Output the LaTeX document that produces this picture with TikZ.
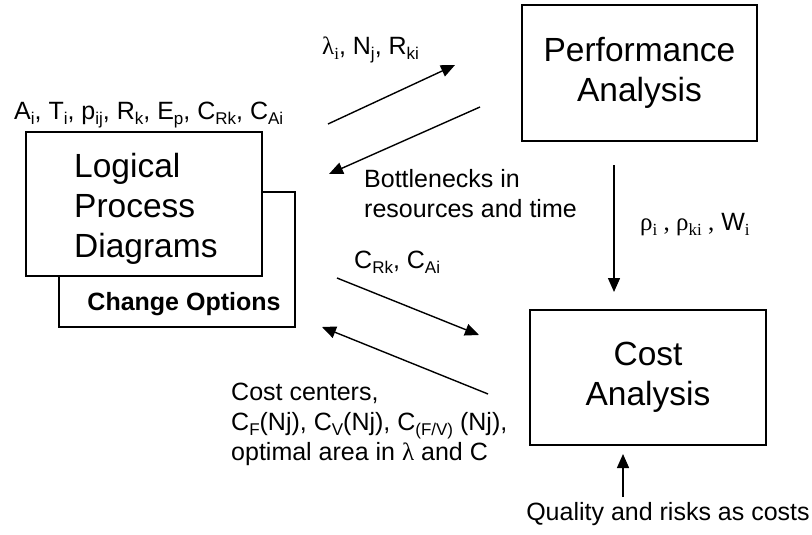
\documentclass[tikz,border=0pt]{standalone}
\usepackage{fontspec}
\setmainfont{Liberation Sans}
\newfontfamily\grk{Liberation Serif}
\usetikzlibrary{arrows.meta}
\newcommand\lo[1]{\raisebox{-5pt}{\fontsize{17}{17}\selectfont #1}}
\newcommand\bigtxt{\fontsize{33.5}{40}\selectfont}
\newcommand\smtxt{\fontsize{25}{30}\selectfont}
\begin{document}
\begin{tikzpicture}[x=1pt,y=-1pt,
  box/.style={draw, line width=1.3pt, fill=white, inner sep=0pt, font=\bigtxt, align=center},
  lbl/.style={inner sep=0pt, font=\smtxt, anchor=base west, align=left},
  arr/.style={line width=1.4pt, -{Triangle[length=14pt,width=12pt]}}]
\useasboundingbox (0,0) rectangle (812,535);

% Logical process diagrams (two stacked boxes)
\node[box, minimum width=236, minimum height=135] (chg) at (177,259.5) {};
\node[box, minimum width=236, minimum height=144] (lpd) at (144,204) {};
\node[inner sep=0pt, font=\bigtxt, anchor=base west, align=left] (lpdtxt) at (74,257) {Logical\\Process\\Diagrams};
\node[inner sep=0pt, font=\smtxt\bfseries, anchor=base] (chgtxt) at (184,310) {Change Options};

% Performance and cost boxes
\node[box, minimum width=235, minimum height=136] (perf) at (639.5,73) {Performance\\Analysis};
\node[box, minimum width=236, minimum height=135] (cost) at (648,377.5) {Cost\\Analysis};

% Labels
\node[lbl] (linp) at (14,120) {A\lo{i}, T\lo{i}, p\lo{ij}, R\lo{k}, E\lo{p}, C\lo{Rk}, C\lo{Ai}};
\node[lbl] (llam) at (322,55) {{\grk λ\lo{i}}, N\lo{j}, R\lo{ki}};
\node[lbl] (lbot) at (364,217) {Bottlenecks in\\resources and time};
\node[lbl] (lrho) at (640,230) {{\grk ρ\lo{i} , ρ\lo{ki} ,} W\lo{\grk i}};
\node[lbl] (lcrk) at (354,268) {C\lo{Rk}, C\lo{Ai}};
\node[lbl] (lcc) at (231,460) {Cost centers,\\C\lo{F}(Nj), C\lo{V}(Nj), C\lo{(F/V)} (Nj),\\optimal area in {\grk λ} and C};
\node[inner sep=0pt, font=\smtxt, anchor=base] (lqual) at (668,520) {Quality and risks as costs};

% Arrow end points
\coordinate (a1s) at (328,124);
\coordinate (a1e) at (455,65);
\coordinate (a2s) at (480,107);
\coordinate (a2e) at (329,174);
\coordinate (a3s) at (337,278);
\coordinate (a3e) at (479,335);
\coordinate (a4s) at (488,394);
\coordinate (a4e) at (322,327);
\coordinate (a5s) at (614,165);
\coordinate (a5e) at (614,292);
\coordinate (a6s) at (623,497);
\coordinate (a6e) at (623,454);

\draw[arr] (a1s) -- (a1e);
\draw[arr] (a2s) -- (a2e);
\draw[arr] (a3s) -- (a3e);
\draw[arr] (a4s) -- (a4e);
\draw[arr] (a5s) -- (a5e);
\draw[arr] (a6s) -- (a6e);
\end{tikzpicture}
\end{document}
